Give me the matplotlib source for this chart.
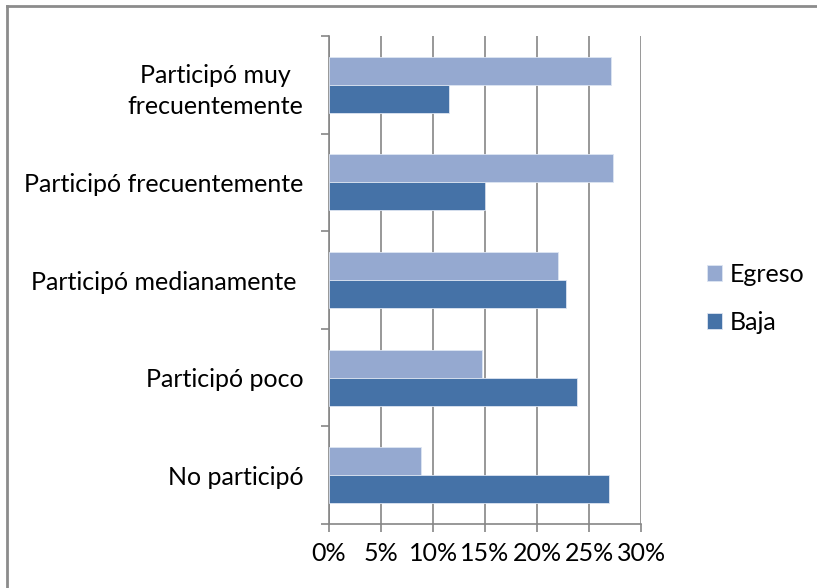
import numpy as np
import matplotlib.pyplot as plt
from matplotlib.ticker import MultipleLocator, FixedLocator, FuncFormatter

# data (bottom to top, as drawn)
categorias = ['No participó', 'Participó poco', 'Participó medianamente ',
              'Participó frecuentemente', 'Participó muy\nfrecuentemente']
egreso = [8.8, 14.7, 22.0, 27.3, 27.1]
baja = [26.9, 23.8, 22.8, 15.0, 11.5]

plt.rcParams['font.family'] = ['Lato', 'DejaVu Sans']
fs = 18

fig = plt.figure(figsize=(8.17, 5.88), dpi=100)
ax = fig.add_axes([0.4027, 0.1088, 0.382, 0.83])

y = np.arange(len(categorias))
h = 0.287
ax.barh(y + h / 2, egreso, height=h, color='#95A9D0', edgecolor='#dde5f2',
        linewidth=0.6, label='Egreso', zorder=3)
ax.barh(y - h / 2, baja, height=h, color='#4572A7', edgecolor='#dde5f2',
        linewidth=0.6, label='Baja', zorder=3)

ax.set_xlim(0, 30)
ax.set_ylim(-0.5, len(categorias) - 0.5)
ax.xaxis.set_major_locator(MultipleLocator(5))
ax.xaxis.set_major_formatter(FuncFormatter(lambda v, p: '%d%%' % round(v)))
ax.grid(axis='x', color='#868686', linewidth=1.2, zorder=0)

# category boundaries as ticks, labels on minor ticks
ax.yaxis.set_major_locator(FixedLocator(np.arange(-0.5, len(categorias), 1)))
ax.yaxis.set_major_formatter(plt.NullFormatter())
ax.yaxis.set_minor_locator(FixedLocator(y))
ax.set_yticklabels(categorias, minor=True, multialignment='center',
                   linespacing=1.45)
ax.tick_params(axis='y', which='major', length=6, color='#868686', width=1.2)
ax.tick_params(axis='y', which='minor', length=0, pad=18.5, labelsize=fs)
ax.tick_params(axis='x', length=6, color='#868686', width=1.2, pad=7,
               labelsize=fs)

for s in ['top', 'right']:
    ax.spines[s].set_visible(False)
for s in ['left', 'bottom']:
    ax.spines[s].set_color('#868686')
    ax.spines[s].set_linewidth(1.2)

ax.legend(loc='center left', bbox_to_anchor=(1.14, 0.463), frameon=False,
          fontsize=fs, handlelength=0.6, handleheight=0.6,
          handletextpad=0.3, labelspacing=1.0)

# outer chart border
fig.add_artist(plt.Line2D([0.0086, 0.0086], [0.0, 0.989], color='#8c8c8c',
                          linewidth=2.0))
fig.add_artist(plt.Line2D([0.0086, 1.0], [0.989, 0.989], color='#8c8c8c',
                          linewidth=2.0))

fig.savefig('out.png', dpi=100)
